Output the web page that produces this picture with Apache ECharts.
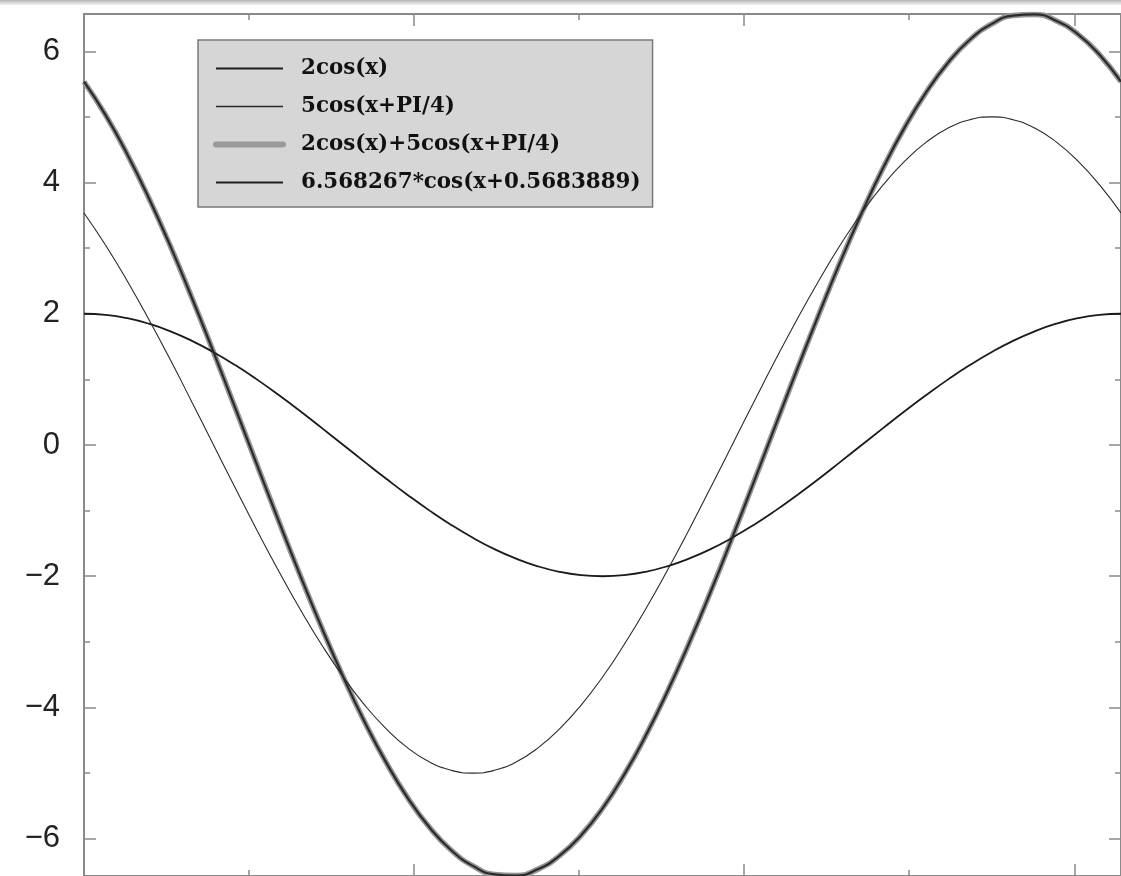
<!DOCTYPE html>
<html>
<head>
<meta charset="utf-8">
<script src="https://cdn.jsdelivr.net/npm/echarts@6/dist/echarts.min.js"></script>
<style>
html,body{margin:0;padding:0;background:#fff;}
#chart{width:1121px;height:876px;}
</style>
</head>
<body>
<div id="chart"></div>
<script>
// x positions (radians, 0 .. 2π)
var xValues = [0, 0.131, 0.262, 0.393, 0.524, 0.654, 0.785, 0.916, 1.047, 1.178, 1.309, 1.440, 1.571, 1.702, 1.833, 1.963, 2.094, 2.225, 2.356, 2.487, 2.618, 2.749, 2.880, 3.011, 3.142, 3.272, 3.403, 3.534, 3.665, 3.796, 3.927, 4.058, 4.189, 4.320, 4.451, 4.581, 4.712, 4.843, 4.974, 5.105, 5.236, 5.367, 5.498, 5.629, 5.760, 5.890, 6.021, 6.152, 6.283];

var seriesNames = ['2cos(x)', '5cos(x+PI/4)', '2cos(x)+5cos(x+PI/4)', '6.568267*cos(x+0.5683889)'];

var cos2Values = [2, 1.983, 1.932, 1.848, 1.732, 1.587, 1.414, 1.218, 1, 0.765, 0.518, 0.261, 0, -0.261, -0.518, -0.765, -1, -1.218, -1.414, -1.587, -1.732, -1.848, -1.932, -1.983, -2, -1.983, -1.932, -1.848, -1.732, -1.587, -1.414, -1.218, -1, -0.765, -0.518, -0.261, 0, 0.261, 0.518, 0.765, 1, 1.218, 1.414, 1.587, 1.732, 1.848, 1.932, 1.983, 2];

var cos5Values = [3.536, 3.044, 2.5, 1.913, 1.294, 0.653, 0, -0.653, -1.294, -1.913, -2.5, -3.044, -3.536, -3.967, -4.330, -4.619, -4.830, -4.957, -5, -4.957, -4.830, -4.619, -4.330, -3.967, -3.536, -3.044, -2.5, -1.913, -1.294, -0.653, 0, 0.653, 1.294, 1.913, 2.5, 3.044, 3.536, 3.967, 4.330, 4.619, 4.830, 4.957, 5, 4.957, 4.830, 4.619, 4.330, 3.967, 3.536];

var sumValues = [5.536, 5.027, 4.432, 3.761, 3.026, 2.240, 1.414, 0.565, -0.294, -1.148, -1.982, -2.783, -3.536, -4.228, -4.848, -5.384, -5.830, -6.175, -6.414, -6.544, -6.562, -6.467, -6.262, -5.950, -5.536, -5.027, -4.432, -3.761, -3.026, -2.240, -1.414, -0.565, 0.294, 1.148, 1.982, 2.783, 3.536, 4.228, 4.848, 5.384, 5.830, 6.175, 6.414, 6.544, 6.562, 6.467, 6.262, 5.950, 5.536];

var fitValues = [5.536, 5.027, 4.432, 3.761, 3.026, 2.240, 1.414, 0.565, -0.294, -1.148, -1.982, -2.783, -3.536, -4.228, -4.848, -5.384, -5.830, -6.175, -6.414, -6.544, -6.562, -6.467, -6.262, -5.950, -5.536, -5.027, -4.432, -3.761, -3.026, -2.240, -1.414, -0.565, 0.294, 1.148, 1.982, 2.783, 3.536, 4.228, 4.848, 5.384, 5.830, 6.175, 6.414, 6.544, 6.562, 6.467, 6.262, 5.950, 5.536];

var yTickValues = [-6, -4, -2, 0, 2, 4, 6];
var yTickLabels = ['\u22126', '\u22124', '\u22122', '0', '2', '4', '6'];

var xMin = 0, xMax = 6.283;
var yMin = -6.568, yMax = 6.568;

function pairs(ys) {
  return xValues.map(function (x, i) { return [x, ys[i]]; });
}

var axisGray = '#8a8a8a';

function xAxisDef(pos, interval, len, showLine) {
  return {
    type: 'value', position: pos, min: xMin, max: xMax, interval: interval,
    axisLine: { show: showLine, onZero: false, lineStyle: { color: axisGray, width: 2 } },
    axisTick: { show: true, inside: true, length: len, lineStyle: { color: axisGray, width: 1.5 } },
    axisLabel: { show: false },
    splitLine: { show: false }
  };
}
function yAxisDef(pos, step, len, showLine, showLabel) {
  return {
    type: 'value', position: pos, min: yMin, max: yMax,
    minInterval: step, maxInterval: step, splitNumber: 14,
    axisLine: { show: showLine, onZero: false, lineStyle: { color: axisGray, width: 2 } },
    axisTick: { show: true, inside: true, length: len, lineStyle: { color: axisGray, width: 1.5 } },
    axisLabel: {
      show: showLabel, margin: 24, showMinLabel: false, showMaxLabel: false,
      fontFamily: 'Liberation Sans, Arial, sans-serif', fontSize: 31, color: '#222',
      formatter: function (v) {
        var idx = yTickValues.indexOf(Math.round(v * 1000) / 1000);
        return idx >= 0 ? yTickLabels[idx] : '';
      }
    },
    splitLine: { show: false }
  };
}

var chart = echarts.init(document.getElementById('chart'), null, { renderer: 'canvas' });
chart.setOption({
  animation: false,
  backgroundColor: '#ffffff',
  grid: { left: 84, top: 14, width: 1037, height: 863, containLabel: false },
  graphic: [{
    type: 'rect', left: 0, top: 0, z: 100,
    shape: { width: 1121, height: 5 },
    style: { fill: new echarts.graphic.LinearGradient(0, 0, 0, 1, [
      { offset: 0, color: '#b4b4b4' }, { offset: 1, color: '#f4f4f4' }]) }
  }],
  legend: {
    data: [
      { name: seriesNames[0], lineStyle: { width: 2, color: '#1e1e1e' } },
      { name: seriesNames[1], lineStyle: { width: 1.5, color: '#2a2a2a' } },
      { name: seriesNames[2], lineStyle: { width: 6, color: '#9a9a9a', cap: 'round' } },
      { name: seriesNames[3], lineStyle: { width: 2, color: '#1e1e1e' } }
    ],
    orient: 'vertical', left: 198, top: 40,
    backgroundColor: '#d6d6d6', borderColor: '#7a7a7a', borderWidth: 1.5, borderRadius: 0,
    padding: [18, 12, 14, 15],
    itemWidth: 67, itemHeight: 20, itemGap: 17,
    itemStyle: { color: 'rgba(0,0,0,0)', borderWidth: 0, opacity: 0 },
    textStyle: { fontFamily: 'DejaVu Serif, serif', fontWeight: 'bold', fontSize: 21.4, lineHeight: 20, color: '#111', padding: [0, 0, 0, 13] }
  },
  xAxis: [
    xAxisDef('bottom', 2, 12, true),
    xAxisDef('bottom', 1, 6, false),
    xAxisDef('top', 2, 12, true),
    xAxisDef('top', 1, 6, false)
  ],
  yAxis: [
    yAxisDef('left', 2, 12, true, true),
    yAxisDef('left', 1, 6, false, false),
    yAxisDef('right', 2, 12, true, false),
    yAxisDef('right', 1, 6, false, false)
  ],
  series: [
    { name: seriesNames[0], type: 'line', data: pairs(cos2Values), smooth: true, showSymbol: false, symbol: 'none',
      lineStyle: { color: '#1a1a1a', width: 1.8 }, itemStyle: { color: '#1a1a1a' }, z: 3 },
    { name: seriesNames[1], type: 'line', data: pairs(cos5Values), smooth: true, showSymbol: false, symbol: 'none',
      lineStyle: { color: '#2a2a2a', width: 1.1 }, itemStyle: { color: '#2a2a2a' }, z: 3 },
    { name: seriesNames[2], type: 'line', data: pairs(sumValues), smooth: true, showSymbol: false, symbol: 'none',
      lineStyle: { color: '#959595', width: 5.5 }, itemStyle: { color: '#959595' }, z: 2 },
    { name: seriesNames[3], type: 'line', data: pairs(fitValues), smooth: true, showSymbol: false, symbol: 'none',
      lineStyle: { color: '#2a2a2a', width: 2.2 }, itemStyle: { color: '#2a2a2a' }, z: 4 }
  ]
});
</script>
</body>
</html>
